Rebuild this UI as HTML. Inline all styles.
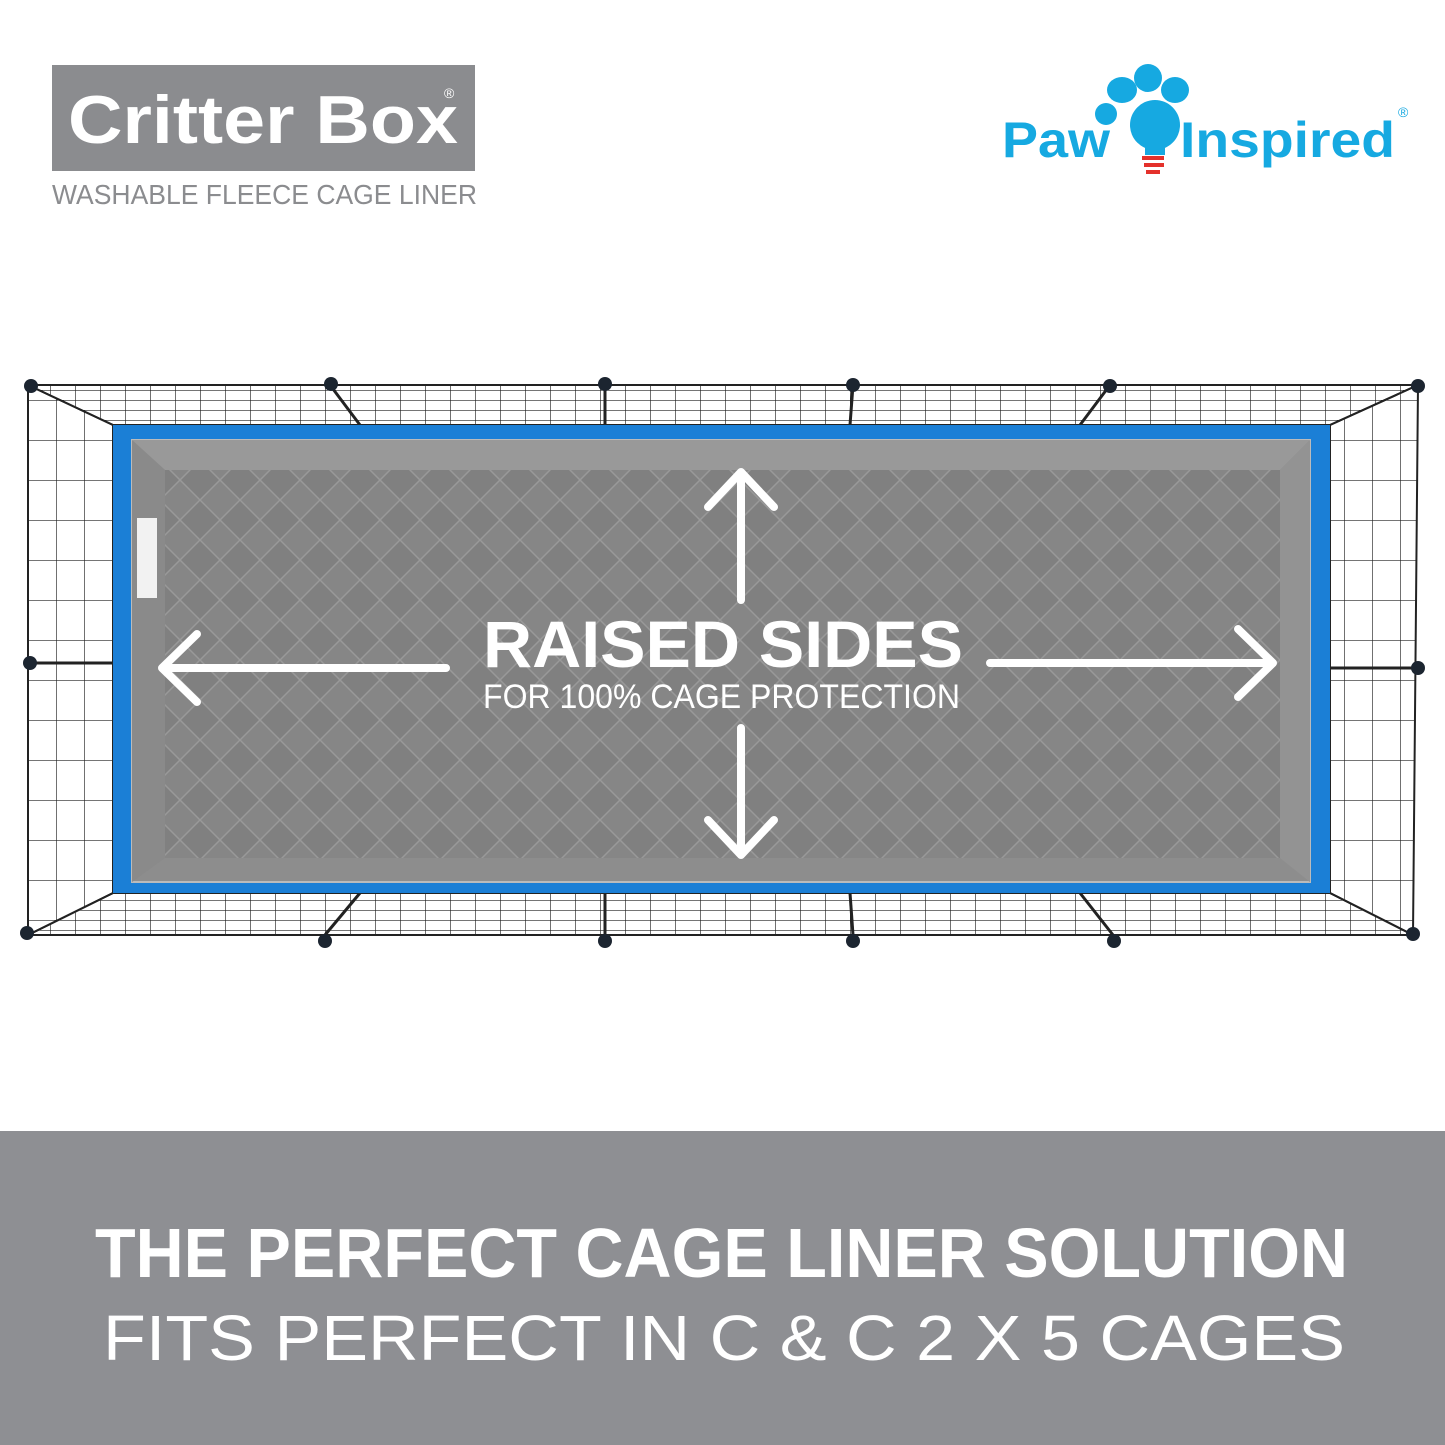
<!DOCTYPE html>
<html><head><meta charset="utf-8"><style>
html,body{margin:0;padding:0;background:#fff}
svg{display:block}
text{font-family:"Liberation Sans",sans-serif}
</style></head><body>
<svg width="1445" height="1445" viewBox="0 0 1445 1445" xmlns="http://www.w3.org/2000/svg">
<defs>
<pattern id="gh" width="25" height="10" patternUnits="userSpaceOnUse">
<path d="M0 0H25M0 0V10" stroke="#222" stroke-width="1.3" fill="none"/>
</pattern>
<pattern id="gv" width="28" height="40" patternUnits="userSpaceOnUse">
<path d="M0 0H28M0 0V40" stroke="#222" stroke-width="1.3" fill="none"/>
</pattern>
<pattern id="dia" width="40" height="40" patternUnits="userSpaceOnUse">
<rect width="40" height="40" fill="#808080"/>
<path d="M0 20L20 0L40 20L20 40Z" fill="#868686"/>
<path d="M0 20L20 0M20 0L40 20M40 20L20 40M20 40L0 20" stroke="#999" stroke-width="1.5" fill="none"/>
</pattern>
</defs>
<!-- logos -->
<rect x="52" y="65" width="423" height="106" fill="#8b8c8f"/>
<text x="68" y="143" font-size="68" font-weight="bold" fill="#fff" textLength="390" lengthAdjust="spacingAndGlyphs">Critter Box</text>
<text x="444" y="98" font-size="14" fill="#fff">®</text>
<text x="52" y="204" font-size="28" fill="#8b8c8f" textLength="425" lengthAdjust="spacingAndGlyphs">WASHABLE FLEECE CAGE LINER</text>

<g fill="#16a9e1">
<ellipse cx="1122" cy="90" rx="15" ry="13"/>
<ellipse cx="1148" cy="78" rx="14" ry="14"/>
<ellipse cx="1175" cy="90" rx="14" ry="13"/>
<ellipse cx="1106" cy="114" rx="11" ry="11"/>
<circle cx="1155" cy="125" r="25"/>
<rect x="1145" y="140" width="20" height="15"/>
</g>
<path d="M1142 158h22M1144 165h20M1146 172h14" stroke="#e4312b" stroke-width="4"/>
<text x="1002" y="157" font-size="50" font-weight="bold" fill="#16a9e1" textLength="108" lengthAdjust="spacingAndGlyphs">Paw</text>
<text x="1180" y="157" font-size="50" font-weight="bold" fill="#16a9e1" textLength="215" lengthAdjust="spacingAndGlyphs">Inspired</text>
<text x="1398" y="117" font-size="14" fill="#16a9e1">®</text>

<!-- cage -->
<path d="M28 385H1418L1330 425H113Z" fill="url(#gh)" stroke="#222" stroke-width="2"/>
<path d="M28 935H1413L1330 893H113Z" fill="url(#gh)" stroke="#222" stroke-width="2"/>
<path d="M28 385L113 425V893L28 935Z" fill="url(#gv)" stroke="#222" stroke-width="2"/>
<path d="M1418 385L1330 425V893L1413 935Z" fill="url(#gv)" stroke="#222" stroke-width="2"/>
<g stroke="#222" stroke-width="3">
<line x1="330" y1="385" x2="360" y2="425"/><line x1="605" y1="385" x2="605" y2="425"/>
<line x1="853" y1="385" x2="850" y2="425"/><line x1="1110" y1="385" x2="1080" y2="425"/>
<line x1="325" y1="935" x2="360" y2="893"/><line x1="605" y1="935" x2="605" y2="893"/>
<line x1="853" y1="935" x2="850" y2="893"/><line x1="1113" y1="935" x2="1080" y2="893"/>
<line x1="28" y1="663" x2="113" y2="663"/><line x1="1418" y1="668" x2="1330" y2="668"/>
</g>
<g fill="#1c2530">
<circle cx="31" cy="386" r="7"/><circle cx="331" cy="384" r="7"/><circle cx="605" cy="384" r="7"/>
<circle cx="853" cy="385" r="7"/><circle cx="1110" cy="386" r="7"/><circle cx="1418" cy="386" r="7"/>
<circle cx="27" cy="933" r="7"/><circle cx="325" cy="941" r="7"/><circle cx="605" cy="941" r="7"/>
<circle cx="853" cy="941" r="7"/><circle cx="1114" cy="941" r="7"/><circle cx="1413" cy="934" r="7"/>
<circle cx="30" cy="663" r="7"/><circle cx="1418" cy="668" r="7"/>
</g>
<rect x="113" y="425" width="1217" height="468" fill="#1b7fd6"/>
<rect x="132" y="440" width="1178" height="442" fill="#8d8d8d" stroke="#bbb" stroke-width="2"/>
<path d="M132 440L165 470H1280L1310 440Z" fill="#999"/>
<path d="M132 440L165 470V858L132 882Z" fill="#8a8a8a"/>
<path d="M1310 440L1280 470V858L1310 882Z" fill="#939393"/>
<rect x="165" y="470" width="1115" height="388" fill="url(#dia)"/>
<rect x="137" y="518" width="20" height="80" fill="#f2f2f2"/>

<!-- arrows -->
<g stroke="#fff" stroke-width="8" fill="none" stroke-linecap="round" stroke-linejoin="round">
<path d="M741 600V472M708 507L741 472L774 507"/>
<path d="M741 728V855M708 820L741 855L774 820"/>
<path d="M446 668H162M197 634L162 668L197 702"/>
<path d="M990 663H1273M1238 629L1273 663L1238 697"/>
</g>
<text x="483" y="667" font-size="66" font-weight="bold" fill="#fff" textLength="480" lengthAdjust="spacingAndGlyphs">RAISED SIDES</text>
<text x="483" y="708" font-size="34" fill="#fff" textLength="477" lengthAdjust="spacingAndGlyphs">FOR 100% CAGE PROTECTION</text>

<!-- bottom band -->
<rect x="0" y="1131" width="1445" height="314" fill="#8e8f93"/>
<text x="95" y="1277" font-size="70" font-weight="bold" fill="#fff" textLength="1253" lengthAdjust="spacingAndGlyphs">THE PERFECT CAGE LINER SOLUTION</text>
<text x="103" y="1360" font-size="64" fill="#fff" textLength="1242" lengthAdjust="spacingAndGlyphs">FITS PERFECT IN C &amp; C  2 X 5 CAGES</text>
</svg>
</body></html>
